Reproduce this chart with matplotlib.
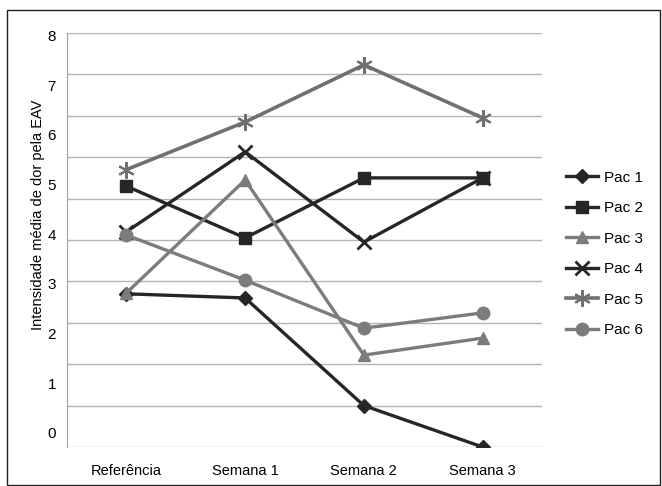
import matplotlib
matplotlib.use('Agg')
import matplotlib.pyplot as plt
from matplotlib.patches import Rectangle

plt.rcParams['font.family'] = ['Liberation Sans', 'DejaVu Sans']

# data (in gridline units 0-10)
categories = ['Referência', 'Semana 1', 'Semana 2', 'Semana 3']
pac1 = [3.7, 3.6, 1.0, 0.0]
pac2 = [6.3, 5.05, 6.5, 6.5]
pac3 = [3.72, 6.45, 2.22, 2.63]
pac4 = [5.2, 7.13, 4.95, 6.5]
pac5 = [6.7, 7.85, 9.23, 7.95]
pac6 = [5.12, 4.03, 2.87, 3.24]
ytick_labels = ['0', '1', '2', '3', '4', '5', '6', '7', '8']

dark = '#262626'
gray = '#7c7c7c'

fig = plt.figure(figsize=(6.62, 4.86), dpi=100)
ax = fig.add_axes([67 / 662, 1 - 447 / 486, 475 / 662, 414 / 486])

x = range(len(categories))
ax.plot(x, pac1, color=dark, lw=2.4, marker='D', ms=7, label='Pac 1')
ax.plot(x, pac2, color=dark, lw=2.4, marker='s', ms=9, label='Pac 2')
ax.plot(x, pac3, color=gray, lw=2.4, marker='^', ms=9, label='Pac 3')
ax.plot(x, pac4, color=dark, lw=2.4, marker='x', ms=10, mew=2, label='Pac 4')
ax.plot(x, pac5, color='#707070', lw=2.6, marker=(6, 2, 0), ms=12, mew=1.5, label='Pac 5')
ax.plot(x, pac6, color=gray, lw=2.4, marker='o', ms=9, label='Pac 6')

ax.set_xlim(-0.5, 3.5)
ax.set_ylim(0, 10)

# horizontal gridlines at each unit
for g in range(11):
    ax.axhline(g, color='#b4b4b4', lw=1, zorder=0)

ax.set_xticks(list(x))
ax.set_xticklabels(categories, fontsize=10.5)
# labels in the picture sit on their own (offset) scale
ax.set_yticks([0.34 + 1.2 * i for i in range(len(ytick_labels))])
ax.set_yticklabels(ytick_labels, fontsize=11)
ax.tick_params(length=0, pad=8)
ax.tick_params(axis='x', pad=12)

for s in ['top', 'right', 'bottom']:
    ax.spines[s].set_visible(False)
ax.spines['left'].set_color('#a0a0a0')

fig.text(38 / 662, 1 - 215 / 486, 'Intensidade média de dor pela EAV',
         rotation=90, ha='center', va='center', fontsize=10.5)

leg = fig.legend(loc='upper left', bbox_to_anchor=(558 / 662, 1 - 163 / 486),
                 frameon=False, fontsize=11, handlelength=2.1, handletextpad=0.4,
                 labelspacing=1.08, borderpad=0)

fig.patches.append(Rectangle((7 / 662, 1 / 486), 653 / 662, 475 / 486,
                             transform=fig.transFigure, fill=False,
                             edgecolor='#222222', lw=1))

fig.savefig('out.png', dpi=100)
